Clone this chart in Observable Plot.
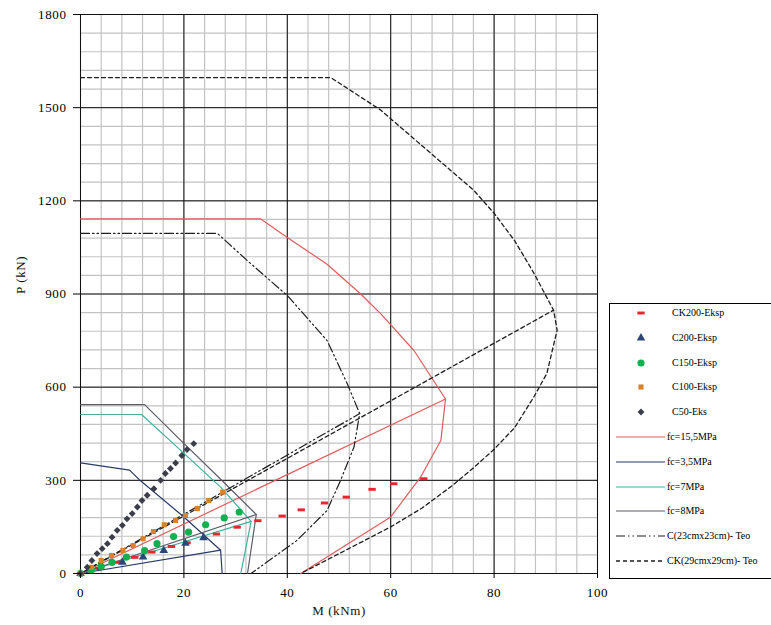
<!DOCTYPE html>
<html><head><meta charset="utf-8">
<script src="https://cdn.jsdelivr.net/npm/d3@7"></script>
<script src="https://cdn.jsdelivr.net/npm/@observablehq/plot@0.6"></script>
<style>
html,body{margin:0;padding:0;background:#fff;overflow:hidden;}
#wrap{position:relative;width:771px;height:625px;overflow:hidden;}
#legendBox{position:absolute;left:609px;top:303px;width:175px;height:276px;border:1px solid #000;background:#fff;box-sizing:border-box;}
.lt{position:absolute;font-family:'Liberation Serif',serif;font-size:10px;color:#000;white-space:nowrap;line-height:12px;}
.sw{position:absolute;}
svg text{font-weight:normal;}
</style></head><body><div id="wrap"><div id="legendBox"></div></div>
<script>
// ---- axis ticks ----
const xTicks = [0, 20, 40, 60, 80, 100];
const yTicks = [0, 300, 600, 900, 1200, 1500, 1800];

// ---- experimental series (M kNm, P kN) ----
const ck200M = [0, 3.5, 7.3, 10.5, 13.8, 17.6, 20.6, 26.3, 30.3, 34.3, 39, 42.7, 47.2, 51.4, 56.4, 60.6, 66.4];
const ck200P = [0, 17, 36, 52, 69, 87, 99, 127, 149, 170, 185, 205, 227, 246, 271, 289, 305];
const c200M = [0, 3.9, 8.1, 12.1, 16.1, 20.3, 23.8];
const c200P = [0, 20, 36, 53, 74, 97, 115];
const c150M = [0, 2.1, 4.0, 6.1, 8.9, 12.4, 14.8, 18.0, 20.9, 24.2, 27.8, 30.7];
const c150P = [0, 12, 23, 36, 53, 74, 96, 119, 133, 157, 179, 198];
const c100M = [0, 2.1, 4.0, 6.0, 8.2, 10.2, 12.1, 14.1, 16.2, 18.4, 20.3, 22.6, 24.8, 27.5];
const c100P = [0, 20, 42, 58, 74, 90, 112, 135, 157, 171, 187, 209, 235, 262];
const c50M = [0, 1.3, 2.2, 3.2, 4.2, 5.2, 6.1, 7.1, 8.1, 9.0, 10.0, 11.0, 11.9, 12.9, 14.2, 15.5, 16.4, 17.4, 18.4, 19.6, 20.6, 21.9];
const c50P = [0, 20, 42, 64, 80, 96, 117, 139, 155, 176, 193, 214, 235, 252, 273, 300, 322, 338, 356, 380, 399, 418];

// ---- theoretical interaction curves: envelope + radial (balance) line ----
const fc155EnvM = [0, 34.8, 40, 47.7, 54.2, 58.1, 64.5, 70.6, 69.7, 65.8, 60, 42.6];
const fc155EnvP = [1142, 1142, 1082, 996, 900, 836, 718, 562, 428, 311, 182, 0];
const fc155RadM = [0, 70.6];
const fc155RadP = [0, 562];
const fc35EnvM = [0, 9.5, 11.5, 20, 27.1, 27.4];
const fc35EnvP = [356, 333, 300, 182, 75, 0];
const fc35RadM = [0, 27.1];
const fc35RadP = [0, 75];
const fc7EnvM = [0, 11.8, 18.7, 27.1, 33, 31];
const fc7EnvP = [512, 512, 407, 278, 168, 0];
const fc7RadM = [0, 33];
const fc7RadP = [0, 168];
const fc8EnvM = [0, 12.4, 19, 27.7, 34, 32.3];
const fc8EnvP = [544, 544, 435, 294, 190, 0];
const fc8RadM = [0, 34];
const fc8RadP = [0, 190];
const c23EnvM = [0, 26.5, 32.3, 40, 47.7, 51.6, 54, 52.9, 50.3, 47.7, 41.9, 33];
const c23EnvP = [1095, 1095, 1007, 895, 750, 611, 515, 407, 300, 203, 107, 0];
const c23RadM = [0, 54];
const c23RadP = [0, 515];
const ck29EnvM = [0, 48.4, 58, 67, 76, 80, 84, 87.7, 91.5, 92.2, 90.2, 87.7, 84, 80, 76, 71.6, 66, 60, 42.6];
const ck29EnvP = [1597, 1597, 1493, 1364, 1235, 1160, 1071, 967, 848, 784, 644, 569, 470, 400, 340, 279, 210, 150, 0];
const ck29RadM = [0, 91.5];
const ck29RadP = [0, 848];

const pointNames = ["CK200-Eksp", "C200-Eksp", "C150-Eksp", "C100-Eksp", "C50-Eks"];
const lineNames = ["fc=15,5MPa", "fc=3,5MPa", "fc=7MPa", "fc=8MPa", "C(23cmx23cm)- Teo", "CK(29cmx29cm)- Teo"];
const axisTitles = ["M (kNm)", "P (kN)"];

// ---- build tables ----
const zip = (name, M, P) => M.map((m, i) => ({name, M: m, P: P[i]}));
const pointSets = [
  zip(pointNames[0], ck200M, ck200P),
  zip(pointNames[1], c200M, c200P),
  zip(pointNames[2], c150M, c150P),
  zip(pointNames[3], c100M, c100P),
  zip(pointNames[4], c50M, c50P)
];
const seg = (name, s, M, P) => M.map((m, i) => ({name, seg: name + s, M: m, P: P[i]}));
const lineSets = [
  [...seg(lineNames[0], "e", fc155EnvM, fc155EnvP), ...seg(lineNames[0], "r", fc155RadM, fc155RadP)],
  [...seg(lineNames[1], "e", fc35EnvM, fc35EnvP), ...seg(lineNames[1], "r", fc35RadM, fc35RadP)],
  [...seg(lineNames[2], "e", fc7EnvM, fc7EnvP), ...seg(lineNames[2], "r", fc7RadM, fc7RadP)],
  [...seg(lineNames[3], "e", fc8EnvM, fc8EnvP), ...seg(lineNames[3], "r", fc8RadM, fc8RadP)],
  [...seg(lineNames[4], "e", c23EnvM, c23EnvP), ...seg(lineNames[4], "r", c23RadM, c23RadP)],
  [...seg(lineNames[5], "e", ck29EnvM, ck29EnvP), ...seg(lineNames[5], "r", ck29RadM, ck29RadP)]
];

// ---- styles ----
const dashSym = {draw(ctx, size) { const w = Math.sqrt(size) * 1.15, h = w * 0.4; ctx.rect(-w / 2, -h / 2, w, h); }};
const diamondSym = {draw(ctx, size) { const d = Math.sqrt(size) / 1.6; ctx.moveTo(0, -d); ctx.lineTo(d, 0); ctx.lineTo(0, d); ctx.lineTo(-d, 0); ctx.closePath(); }};
const pointStyles = [
  {fill: "#e8262e", symbol: dashSym, r: 3.6},
  {fill: "#2d4677", symbol: "triangle", r: 3.2},
  {fill: "#12b04f", symbol: "circle", r: 3.6},
  {fill: "#d9822b", symbol: "square", r: 2.9},
  {fill: "#3b3d4a", symbol: diamondSym, r: 3.1}
];
const lineStyles = [
  {stroke: "#e25a5c", strokeWidth: 1.2},
  {stroke: "#273a69", strokeWidth: 1.2},
  {stroke: "#3db39c", strokeWidth: 1.2},
  {stroke: "#5c5c6a", strokeWidth: 1.2},
  {stroke: "#1e1e1e", strokeWidth: 1.2, strokeDasharray: "9,3,1.5,3,1.5,3"},
  {stroke: "#1e1e1e", strokeWidth: 1.3, strokeDasharray: "4,3"}
];

const minorX = d3.range(0, 101, 4);
const minorY = d3.range(0, 1801, 60);

const chart = Plot.plot({
  width: 771, height: 625,
  marginLeft: 80, marginRight: 174, marginTop: 14, marginBottom: 52,
  x: {domain: [0, 100], label: null},
  y: {domain: [0, 1800], label: null},
  style: {fontFamily: "'Liberation Serif', serif", fontSize: "13px", background: "transparent", color: "#000", letterSpacing: "0.6px"},
  marks: [
    Plot.ruleX(minorX, {stroke: "#c3c3c3", strokeWidth: 1.2}),
    Plot.ruleY(minorY, {stroke: "#c3c3c3", strokeWidth: 1.2}),
    Plot.ruleX(xTicks, {stroke: "#111", strokeWidth: 1}),
    Plot.ruleY(yTicks, {stroke: "#111", strokeWidth: 1}),
    ...lineSets.map((d, i) => Plot.line(d, {x: "M", y: "P", z: "seg", ...lineStyles[i]})),
    ...pointSets.map((d, i) => Plot.dot(d, {x: "M", y: "P", ...pointStyles[i], stroke: "none"})),
    Plot.axisX({ticks: xTicks, tickSize: 5, tickPadding: 9, label: null, tickFormat: d3.format("d")}),
    Plot.axisY({ticks: yTicks, tickSize: 7, tickPadding: 7, label: null, tickFormat: d3.format("d")}),
    Plot.text([axisTitles[0]], {frameAnchor: "bottom", dy: 41, fontSize: 13, fontWeight: "normal", fill: "#111"}),
    Plot.text([axisTitles[1]], {frameAnchor: "left", dx: -60, rotate: -90, fontSize: 13, fontWeight: "normal", fill: "#111"})
  ]
});
const wrap = document.getElementById("wrap");
chart.style.position = "absolute";
chart.style.left = "0px";
chart.style.top = "0px";
wrap.insertBefore(chart, wrap.firstChild);

// ---- legend ----
const ns = "http://www.w3.org/2000/svg";
const allNames = [...pointNames, ...lineNames];
const symMap = {triangle: d3.symbolTriangle, circle: d3.symbolCircle, square: d3.symbolSquare};
allNames.forEach((name, i) => {
  const cy = 313 + i * 24.8;
  const svg = document.createElementNS(ns, "svg");
  svg.setAttribute("class", "sw");
  svg.setAttribute("width", 60); svg.setAttribute("height", 12);
  svg.style.left = "612px"; svg.style.top = (cy - 6) + "px";
  if (i < pointNames.length) {
    const st = pointStyles[i];
    const t = typeof st.symbol === "string" ? symMap[st.symbol] : st.symbol;
    const p = document.createElementNS(ns, "path");
    p.setAttribute("d", d3.symbol(t, st.r * st.r * Math.PI)());
    p.setAttribute("transform", "translate(29,6)");
    p.setAttribute("fill", st.fill);
    svg.appendChild(p);
  } else {
    const st = lineStyles[i - pointNames.length];
    const l = document.createElementNS(ns, "line");
    l.setAttribute("x1", 4); l.setAttribute("x2", 53); l.setAttribute("y1", 6); l.setAttribute("y2", 6);
    l.setAttribute("stroke", st.stroke);
    l.setAttribute("stroke-width", st.strokeWidth);
    if (st.strokeDasharray) l.setAttribute("stroke-dasharray", st.strokeDasharray);
    svg.appendChild(l);
  }
  wrap.appendChild(svg);
  const t = document.createElement("div");
  t.className = "lt";
  t.textContent = name;
  t.style.left = (i < pointNames.length ? 672 : 667) + "px";
  t.style.top = (cy - 6) + "px";
  wrap.appendChild(t);
});
</script></body></html>
